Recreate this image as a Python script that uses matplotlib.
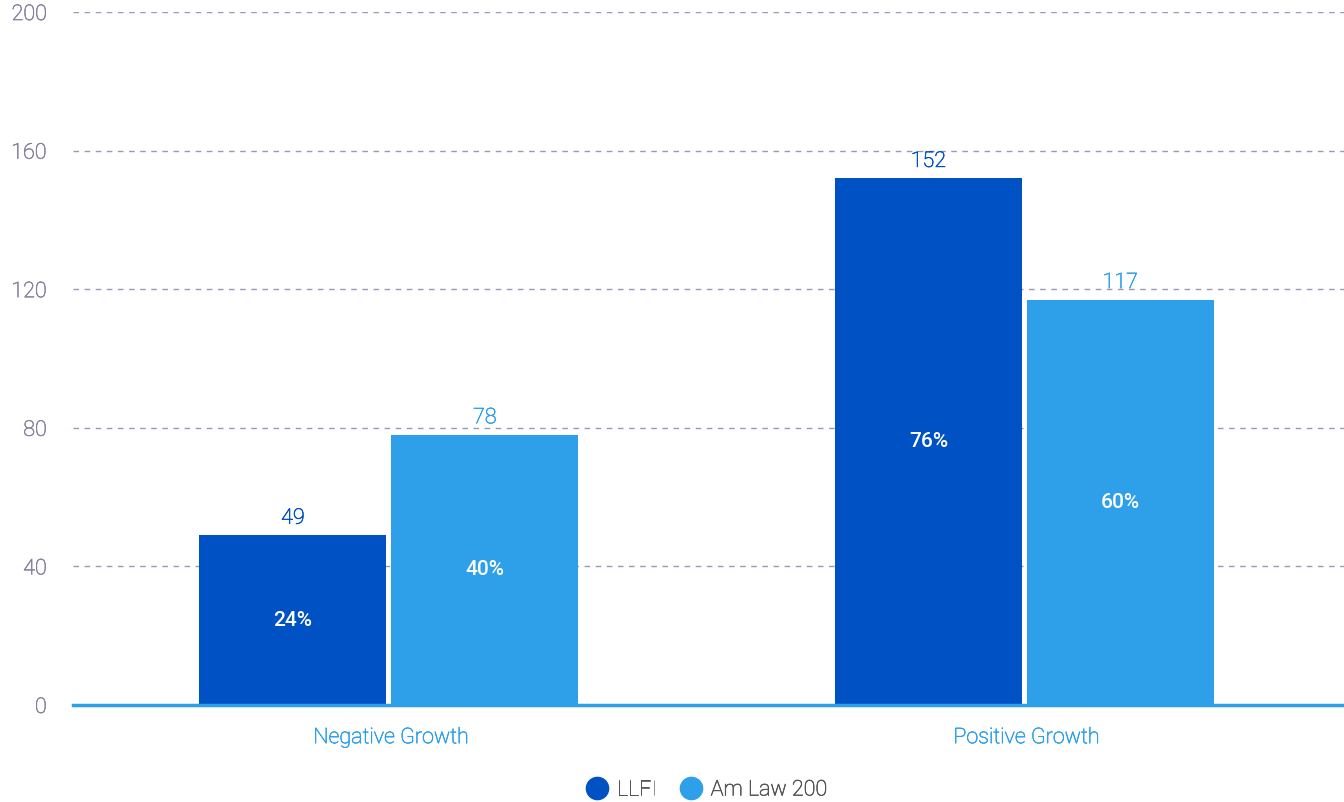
import matplotlib.pyplot as plt
import matplotlib.patheffects as pe
from matplotlib.lines import Line2D
import numpy as np

categories = ["Negative Growth", "Positive Growth"]
llfi = [49, 152]
amlaw = [78, 117]
llfi_pct = ["24%", "76%"]
amlaw_pct = ["40%", "60%"]
yticks = [0, 40, 80, 120, 160, 200]

c_llfi = "#0052c4"
c_amlaw = "#2ea0ea"
tick_col = "#85839f"

plt.rcParams['font.family'] = ['Roboto', 'DejaVu Sans']

def thicken(t, col):
    # light weight is a bit too thin, regular a bit too heavy
    t.set_path_effects([pe.withStroke(linewidth=0.45, foreground=col)])

fig = plt.figure(figsize=(13.44, 8.02), dpi=100)
ax = fig.add_axes([0.0543, 0.121, 0.9457, 0.864])

x = np.arange(len(categories))
w = 0.294
off = 0.151
b1 = ax.bar(x - off - 0.003, llfi, w, color=c_llfi, zorder=3)
b2 = ax.bar(x + off - 0.003, amlaw, w, color=c_amlaw, zorder=3)

for bars, vals, pcts, col in [(b1, llfi, llfi_pct, c_llfi), (b2, amlaw, amlaw_pct, c_amlaw)]:
    for b, v, p in zip(bars, vals, pcts):
        cx = b.get_x() + b.get_width() / 2
        t = ax.text(cx, v + 3.3, str(v), ha='center', va='baseline', color=col,
                    fontsize=15.5, fontweight='light')
        thicken(t, col)
        ax.text(cx, v / 2, p, ha='center', va='center', color='white',
                fontsize=15, fontweight='medium', zorder=4)

ax.set_xlim(-0.5, 1.5)
ax.set_ylim(0, 200)
ax.set_yticks(yticks)
ax.set_yticklabels([str(t) for t in yticks])
ax.set_xticks(x)
ax.set_xticklabels(categories)
ax.tick_params(axis='y', length=0, pad=19, labelsize=15.5, labelcolor=tick_col)
ax.tick_params(axis='x', length=0, pad=16, labelsize=15.5, labelcolor=c_amlaw)
for lab in ax.get_yticklabels():
    lab.set_fontweight('light')
    thicken(lab, tick_col)
for lab in ax.get_xticklabels():
    lab.set_fontweight('light')
    thicken(lab, c_amlaw)

ax.grid(axis='y', color='#9a98b8', linestyle=(0, (4, 4)), linewidth=1, zorder=0)
for s in ['top', 'right', 'left']:
    ax.spines[s].set_visible(False)
ax.spines['bottom'].set_color(c_amlaw)
ax.spines['bottom'].set_linewidth(2.5)
ax.spines['bottom'].set_zorder(5)

handles = [Line2D([], [], marker='o', linestyle='none', markersize=16, color=c_llfi),
           Line2D([], [], marker='o', linestyle='none', markersize=16, color=c_amlaw)]
leg = fig.legend(handles, ["LLFI", "Am Law 200"], loc='center', bbox_to_anchor=(0.525, 0.015),
                 ncol=2, frameon=False, fontsize=15.5, handletextpad=0.3, columnspacing=1.0,
                 handlelength=1.2)
for t in leg.get_texts():
    t.set_color('#555555')
    t.set_fontweight('light')
    thicken(t, '#555555')

fig.savefig('out.png', dpi=100)
